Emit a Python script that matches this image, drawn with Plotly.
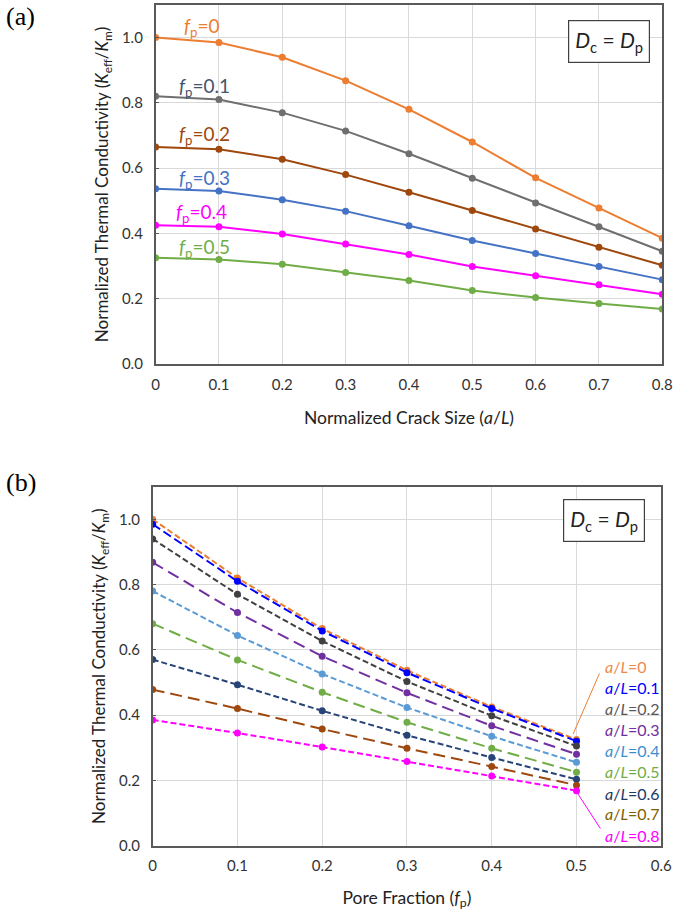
import plotly.graph_objects as go

# normalized crack size a/L (x of panel a)
crack_sizes = [0, 0.1, 0.2, 0.3, 0.4, 0.5, 0.6, 0.7, 0.8]
crack_tick_text = ["0", "0.1", "0.2", "0.3", "0.4", "0.5", "0.6", "0.7", "0.8"]

# pore fraction f_p (x of panel b)
pore_fractions = [0, 0.1, 0.2, 0.3, 0.4, 0.5]
pore_tick_vals = [0, 0.1, 0.2, 0.3, 0.4, 0.5, 0.6]
pore_tick_text = ["0", "0.1", "0.2", "0.3", "0.4", "0.5", "0.6"]

# K_eff/K_m vs a/L, one list per pore fraction
k_fp_0 = [1.000, 0.985, 0.940, 0.868, 0.780, 0.680, 0.570, 0.478, 0.385]
k_fp_01 = [0.820, 0.810, 0.770, 0.714, 0.644, 0.569, 0.493, 0.420, 0.345]
k_fp_02 = [0.665, 0.658, 0.627, 0.580, 0.526, 0.470, 0.413, 0.357, 0.302]
k_fp_03 = [0.537, 0.530, 0.503, 0.468, 0.423, 0.378, 0.338, 0.298, 0.258]
k_fp_04 = [0.425, 0.420, 0.398, 0.367, 0.335, 0.298, 0.270, 0.242, 0.213]
k_fp_05 = [0.325, 0.320, 0.305, 0.280, 0.255, 0.225, 0.203, 0.185, 0.168]

y_tick_vals = [0, 0.2, 0.4, 0.6, 0.8, 1.0]
y_tick_text = ["0.0", "0.2", "0.4", "0.6", "0.8", "1.0"]

FONT = "Lato"
AXIS_COLOR = "#595959"
GRID_COLOR = "#D9D9D9"

fp_series = [
    ("0", k_fp_0, "#ED7D31", "#ED7D31", 0.073, 1.032),
    ("0.1", k_fp_01, "#6F6F6F", "#44546A", 0.077, 0.848),
    ("0.2", k_fp_02, "#9E480E", "#9E480E", 0.077, 0.700),
    ("0.3", k_fp_03, "#4472C4", "#4472C4", 0.077, 0.568),
    ("0.4", k_fp_04, "#FF00FF", "#FF00FF", 0.073, 0.462),
    ("0.5", k_fp_05, "#70AD47", "#70AD47", 0.077, 0.355),
]

# one dashed line per crack size in panel b
al_styles = [
    ("0", "#ED7D31", "#F08A48", "6px,3px"),
    ("0.1", "#0000FF", "#0000FF", "9px,4px"),
    ("0.2", "#404040", "#595959", "6px,3px"),
    ("0.3", "#7030A0", "#7030A0", "12px,6px"),
    ("0.4", "#5B9BD5", "#3A8FD0", "6px,3px"),
    ("0.5", "#70AD47", "#70AD47", "12px,6px"),
    ("0.6", "#264478", "#203864", "6px,3px"),
    ("0.7", "#9E480E", "#7F6000", "12px,6px"),
    ("0.8", "#FF00FF", "#FF00FF", "6px,3px"),
]
al_label_y = [0.548, 0.485, 0.421, 0.355, 0.291, 0.227, 0.161, 0.097, 0.030]

fig = go.Figure()

# panel (a)
for name, vals, color, txt_color, lx, ly in fp_series:
    fig.add_trace(go.Scatter(x=crack_sizes, y=vals, mode="lines+markers",
                             line=dict(color=color, width=2),
                             marker=dict(color=color, size=7),
                             name=f"fp={name}", xaxis="x", yaxis="y"))
    fig.add_annotation(x=lx, y=ly, xref="x", yref="y", showarrow=False,
                       xanchor="center", yanchor="middle",
                       text=f"<i>f</i><sub>p</sub>={name}",
                       font=dict(family=FONT, size=19, color=txt_color))

# panel (b): columns of the same table
fp_rows = [s[1] for s in fp_series]
for j, (name, color, txt_color, dash) in enumerate(al_styles):
    col = [row[j] for row in fp_rows]
    fig.add_trace(go.Scatter(x=pore_fractions, y=col, mode="lines+markers",
                             line=dict(color=color, width=2, dash=dash),
                             marker=dict(color=color, size=7),
                             name=f"a/L={name}", xaxis="x2", yaxis="y2"))
    fig.add_annotation(x=0.531, y=al_label_y[j], xref="x2", yref="y2",
                       xanchor="left", yanchor="middle", showarrow=False,
                       text=f"<i>a</i>/<i>L</i>={name}",
                       font=dict(family=FONT, size=16, color=txt_color))

# leader lines to the first and last labels
fig.add_annotation(x=0.496, y=0.342, xref="x2", yref="y2", ax=27, ay=-62,
                   showarrow=True, arrowhead=0, arrowwidth=1, arrowcolor="#ED7D31", text="")
fig.add_annotation(x=0.501, y=0.161, xref="x2", yref="y2", ax=24, ay=37,
                   showarrow=True, arrowhead=0, arrowwidth=1, arrowcolor="#FF00FF", text="")

# D_c = D_p boxes
for xr, yr, xx, yy in [("x domain", "y domain", 0.894, 0.899), ("x2 domain", "y2 domain", 0.887, 0.905)]:
    fig.add_annotation(x=xx, y=yy, xref=xr, yref=yr, showarrow=False,
                       xanchor="center", yanchor="middle",
                       text="<i>D</i><sub>c</sub> = <i>D</i><sub>p</sub>",
                       font=dict(family=FONT, size=21, color="#222222"),
                       bordercolor="#404040", borderwidth=1.2, borderpad=6, bgcolor="white")

# panel letters
for txt, yy in [("(a)", 1.0), ("(b)", 0.4875)]:
    fig.add_annotation(x=0.0, y=yy, xref="paper", yref="paper", xanchor="left", yanchor="top",
                       showarrow=False, text=txt,
                       font=dict(family="Liberation Serif", size=26, color="black"))

y_title = "Normalized Thermal Conductivity (<i>K</i><sub>eff</sub>/<i>K</i><sub>m</sub>)"

common_axis = dict(showline=True, linecolor=AXIS_COLOR, linewidth=1.5, mirror=True,
                   showgrid=True, gridcolor=GRID_COLOR, gridwidth=1, zeroline=False,
                   tickfont=dict(family=FONT, size=15, color="#333333"))

fig.update_layout(
    width=685, height=917,
    margin=dict(l=0, r=0, t=0, b=0),
    plot_bgcolor="white", paper_bgcolor="white",
    showlegend=False,
    xaxis=dict(domain=[0.2263, 0.9825], range=[0, 0.8], anchor="y",
               tickvals=crack_sizes, ticktext=crack_tick_text,
               ticklabelstandoff=6,
               title=dict(text="Normalized Crack Size (<i>a</i>/<i>L</i>)", standoff=20,
                          font=dict(family=FONT, size=17.5, color="#222222")),
               **common_axis),
    yaxis=dict(domain=[0.5998, 0.9945], range=[0, 1.1], anchor="x",
               tickvals=y_tick_vals, ticktext=y_tick_text,
               ticks="inside", ticklen=4, tickcolor=AXIS_COLOR, ticklabelstandoff=8,
               title=dict(text=y_title, standoff=9,
                          font=dict(family=FONT, size=17, color="#222222")),
               **common_axis),
    xaxis2=dict(domain=[0.2219, 0.9810], range=[0, 0.6], anchor="y2",
                tickvals=pore_tick_vals, ticktext=pore_tick_text,
                ticklabelstandoff=6,
                title=dict(text="Pore Fraction (<i>f</i><sub>p</sub>)", standoff=18,
                           font=dict(family=FONT, size=17.5, color="#222222")),
                **common_axis),
    yaxis2=dict(domain=[0.0698, 0.4646], range=[0, 1.1], anchor="x2",
                tickvals=y_tick_vals, ticktext=y_tick_text,
                ticks="inside", ticklen=4, tickcolor=AXIS_COLOR, ticklabelstandoff=8,
                title=dict(text=y_title, standoff=9,
                           font=dict(family=FONT, size=17, color="#222222")),
                **common_axis),
)

# drop the default page margin so the 685x917 figure fills the window exactly
fig.write_html("out.html", config={"displayModeBar": False},
               post_script="document.body.style.margin='0';")
